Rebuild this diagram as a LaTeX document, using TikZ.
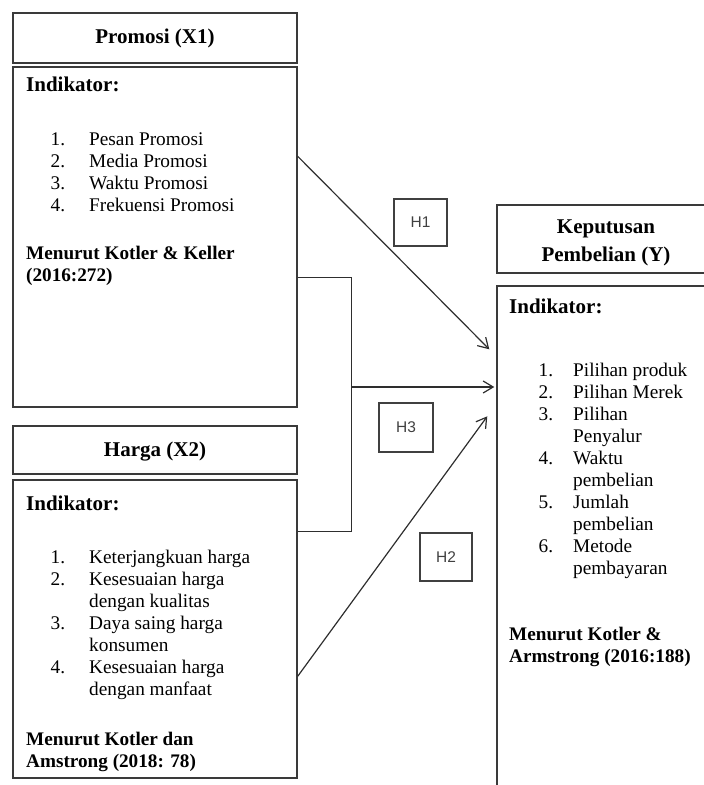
\documentclass[tikz,border=0pt]{standalone}
\usepackage{fontspec}
\setmainfont{Liberation Serif}
\newfontfamily\hfont{Liberation Sans}
\usetikzlibrary{arrows.meta}
\definecolor{edgec}{HTML}{3A3A3A}
\definecolor{wirec}{HTML}{2E2E2E}
\definecolor{hgray}{HTML}{404040}
\begin{document}
\begin{tikzpicture}[x=1pt,y=-1pt,
  box/.style={draw=edgec, line width=1.4pt, rectangle, inner sep=0pt},
  conn/.style={draw=wirec, line width=1.2pt},
  arr/.style={conn, -{Straight Barb[length=10pt,width=12pt,line width=1.2pt]}},
  hbox/.style={draw=hgray, line width=1.1pt, rectangle, inner sep=0pt, font=\hfont\fontsize{15.5}{18}\selectfont, text=hgray},
  head/.style={inner sep=0pt, font=\bfseries\fontsize{21}{28}\selectfont},
  ind/.style={inner sep=0pt, anchor=base west, font=\bfseries\fontsize{21}{24}\selectfont},
  items/.style={inner sep=0pt, anchor=base west, font=\fontsize{19.3}{22}\selectfont},
  src/.style={inner sep=0pt, anchor=base west, font=\bfseries\fontsize{19.2}{22.5}\selectfont}
]
\useasboundingbox (0,0) rectangle (704,785);
\clip (0,0) rectangle (704,785);

% boxes
\node[box, minimum width=284, minimum height=50] (pH) at (155,38) {};
\node[box, minimum width=284, minimum height=340] (pI) at (155,237) {};
\node[box, minimum width=284, minimum height=48] (hH) at (155,450) {};
\node[box, minimum width=284, minimum height=298] (hI) at (155,629) {};
\node[box, minimum width=220, minimum height=68] (yH) at (607,239) {};
\node[box, minimum width=220, minimum height=514] (yI) at (607,543) {};

% headers
\node[head, anchor=base] (pHt) at (155,43) {Promosi (X1)};
\node[head, anchor=base] (hHt) at (155,456) {Harga (X2)};
\node[head, anchor=base] (yHt) at (606,233) {\begin{tabular}[t]{@{}c@{}}Keputusan\\Pembelian (Y)\end{tabular}};

% Promosi content
\node[ind] (pInd) at (26,91) {Indikator:};
\node[items] (pList) at (45,145) {\begin{tabular}[t]{@{}r@{\hspace{24pt}}l@{}}
\makebox[20pt][r]{1.} & Pesan Promosi\\
\makebox[20pt][r]{2.} & Media Promosi\\
\makebox[20pt][r]{3.} & Waktu Promosi\\
\makebox[20pt][r]{4.} & Frekuensi Promosi
\end{tabular}};
\node[src] (pSrc) at (26,259) {\begin{tabular}[t]{@{}l@{}}Menurut Kotler \& Keller\\(2016:272)\end{tabular}};

% Harga content
\node[ind] (hInd) at (26,510) {Indikator:};
\node[items] (hList) at (45,563) {\begin{tabular}[t]{@{}r@{\hspace{24pt}}l@{}}
\makebox[20pt][r]{1.} & Keterjangkuan harga\\
\makebox[20pt][r]{2.} & Kesesuaian harga\\
 & dengan kualitas\\
\makebox[20pt][r]{3.} & Daya saing harga\\
 & konsumen\\
\makebox[20pt][r]{4.} & Kesesuaian harga\\
 & dengan manfaat
\end{tabular}};
\node[src] (hSrc) at (26,745) {\begin{tabular}[t]{@{}l@{}}Menurut Kotler dan\\Amstrong (2018: 78)\end{tabular}};

% Keputusan content
\node[ind] (yInd) at (509,313) {Indikator:};
\node[items] (yList) at (533,376) {\begin{tabular}[t]{@{}r@{\hspace{20pt}}l@{}}
\makebox[20pt][r]{1.} & Pilihan produk\\
\makebox[20pt][r]{2.} & Pilihan Merek\\
\makebox[20pt][r]{3.} & Pilihan\\
 & Penyalur\\
\makebox[20pt][r]{4.} & Waktu\\
 & pembelian\\
\makebox[20pt][r]{5.} & Jumlah\\
 & pembelian\\
\makebox[20pt][r]{6.} & Metode\\
 & pembayaran
\end{tabular}};
\node[src] (ySrc) at (509,640) {\begin{tabular}[t]{@{}l@{}}Menurut Kotler \&\\Armstrong (2016:188)\end{tabular}};

% hypothesis labels
\node[hbox, minimum width=53, minimum height=47] (h1) at (420.5,222.5) {H1};
\node[hbox, minimum width=54, minimum height=49] (h3) at (406,427.5) {H3};
\node[hbox, minimum width=52, minimum height=48] (h2) at (446,557) {H2};

% connectors
\draw[arr] ([yshift=-90pt]pI.north east) -- ([xshift=-7pt,yshift=-64pt]yI.north west);
\draw[conn] ([yshift=-211pt]pI.north east) -- ++(54,0) coordinate (brk) |- ([yshift=-52pt]hI.north east);
\coordinate (mid) at (351,387);
\draw[arr] (mid) -- ([xshift=-2pt]mid -| yI.west);
\draw[arr] ([yshift=-197pt]hI.north east) -- ([xshift=-9pt,yshift=-131pt]yI.north west);
\end{tikzpicture}
\end{document}
